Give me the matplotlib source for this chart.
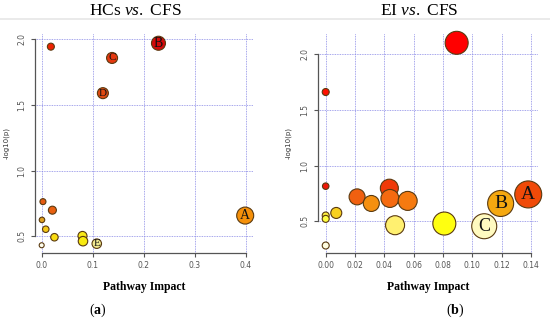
import matplotlib
matplotlib.use('Agg')
import matplotlib.pyplot as plt
from matplotlib.lines import Line2D

plt.rcParams['mathtext.fontset'] = 'custom'
plt.rcParams['mathtext.rm'] = 'Liberation Serif'
plt.rcParams['mathtext.it'] = 'Liberation Serif:italic'
plt.rcParams['mathtext.bf'] = 'Liberation Serif:bold'

# HCs vs. CFS  (panel a)
hc_impact = [0.018, 0.229, 0.138, 0.120, 0.399, 0.0025, 0.021, 0.0006, 0.008, 0.025, 0.080, 0.081, 0.108, 0.000]
hc_logp = [1.944, 1.970, 1.858, 1.590, 0.658, 0.764, 0.699, 0.625, 0.554, 0.493, 0.503, 0.463, 0.444, 0.432]
hc_size = [7, 14, 11, 11, 17, 6, 8, 5.5, 6.5, 7.5, 9, 9.5, 9.5, 5]
hc_color = ['#ee2200', '#d40a0a', '#e5380f', '#e04a10', '#f5900a', '#e55a10', '#e86010',
            '#e0a020', '#f5c818', '#fadc10', '#f8e818', '#f8ea10', '#f0e890', '#fffff0']
hc_label = ['', 'B', 'C', 'D', 'A', '', '', '', '', '', '', '', 'E', '']
hc_label_size = [0, 10, 8, 8, 10, 0, 0, 0, 0, 0, 0, 0, 8, 0]

# EI vs. CFS  (panel b)
ei_impact = [0.0893, 0.0, 0.0, 0.0434, 0.0214, 0.0438, 0.0559, 0.0311, 0.1381, 0.1193, 0.1081,
             0.0809, 0.0473, 0.0072, 0.0, 0.0, 0.0]
ei_logp = [2.10, 1.659, 0.815, 0.797, 0.719, 0.705, 0.683, 0.660, 0.741, 0.660, 0.456,
           0.480, 0.465, 0.575, 0.552, 0.522, 0.283]
ei_size = [23, 7, 6.5, 18, 16, 18, 19, 16, 27, 26, 25, 23, 19, 11, 7, 7, 7]
ei_color = ['#ff0000', '#ff1000', '#f01808', '#f03a08', '#f06010', '#f56a10', '#f57a10', '#f59010',
            '#f04a08', '#f5a810', '#fffac0', '#ffff10', '#fff070', '#f8d020', '#fff040', '#ffff40', '#fffde0']
ei_label = ['', '', '', '', '', '', '', '', 'A', 'B', 'C', '', '', '', '', '', '']
ei_label_size = [0, 0, 0, 0, 0, 0, 0, 0, 14, 14, 13, 0, 0, 0, 0, 0, 0]

hc_xticks = [0.0, 0.1, 0.2, 0.3, 0.4]
ei_xticks = [0.00, 0.02, 0.04, 0.06, 0.08, 0.10, 0.12, 0.14]
yticks = [0.5, 1.0, 1.5, 2.0]

W, H = 550, 321
fig = plt.figure(figsize=(W / 100, H / 100), dpi=100)


def px_rect(x0, x1, ytop, ybot):
    return [x0 / W, 1 - ybot / H, (x1 - x0) / W, (ybot - ytop) / H]


def draw_panel(ax, x, y, size, color, label, lsize, xticks, xfmt, xlim, ylim):
    ax.set_xlim(xlim)
    ax.set_ylim(ylim)
    for t in xticks:
        ax.axvline(t, color='#8888e6', lw=0.6, ls=(0, (1, 1)), zorder=0)
    for t in yticks:
        ax.axhline(t, color='#8888e6', lw=0.6, ls=(0, (1, 1)), zorder=0)
    s = [(0.72 * d) ** 2 for d in size]
    ax.scatter(x, y, s=s, c=color, edgecolors='#5a3a10', linewidths=0.8, zorder=3, clip_on=False)
    for xi, yi, lab, fs in zip(x, y, label, lsize):
        if lab:
            ax.text(xi, yi, lab, ha='center', va='center', fontsize=fs,
                    family='Liberation Serif', color='#111111', zorder=4)
    for side in ['top', 'right']:
        ax.spines[side].set_visible(False)
    ax.spines['left'].set_bounds(yticks[0], yticks[-1])
    ax.spines['bottom'].set_bounds(xticks[0], xticks[-1])
    for side in ['left', 'bottom']:
        ax.spines[side].set_color('#555555')
        ax.spines[side].set_linewidth(0.9)
    ax.set_xticks(xticks)
    ax.set_xticklabels([xfmt.format(t) for t in xticks])
    ax.set_yticks(yticks)
    ax.set_yticklabels(['{:.1f}'.format(t) for t in yticks], rotation=90, va='center')
    ax.tick_params(length=3, width=0.8, color='#555555', labelsize=5.5,
                   labelcolor='#555555', pad=3)
    ax.set_ylabel('-log10(p)', fontsize=5, color='#333333', labelpad=6)
    ax.set_xlabel('Pathway Impact', fontsize=8.5, family='Liberation Serif',
                  fontweight='bold', labelpad=8)
    ax.patch.set_alpha(0)


ax1 = fig.add_axes(px_rect(35, 253, 33, 253))
draw_panel(ax1, hc_impact, hc_logp, hc_size, hc_color, hc_label, hc_label_size,
           hc_xticks, '{:.1f}', (-0.0131, 0.4143), (0.373, 2.048))

ax2 = fig.add_axes(px_rect(317.7, 538, 33, 253))
draw_panel(ax2, ei_impact, ei_logp, ei_size, ei_color, ei_label, ei_label_size,
           ei_xticks, '{:.2f}', (-0.00546, 0.14477), (0.216, 2.188))

# titles and separator
fig.text(135 / W, 1 - 11 / H, r'HCs $\mathit{vs.}$ CFS', ha='center', va='center',
         fontsize=12.5, family='Liberation Serif')
fig.text(419.5 / W, 1 - 11 / H, r'EI $\mathit{vs.}$ CFS', ha='center', va='center',
         fontsize=12.5, family='Liberation Serif')
fig.add_artist(Line2D([0, 1], [1 - 18.5 / H, 1 - 18.5 / H], color='#e6e6e6', lw=1.2))

fig.text(98 / W, 1 - 310 / H, r'($\mathbf{a}$)', ha='center', va='center',
         fontsize=10, family='Liberation Serif')
fig.text(455 / W, 1 - 310 / H, r'($\mathbf{b}$)', ha='center', va='center',
         fontsize=10, family='Liberation Serif')

fig.savefig('out.png', dpi=100)
